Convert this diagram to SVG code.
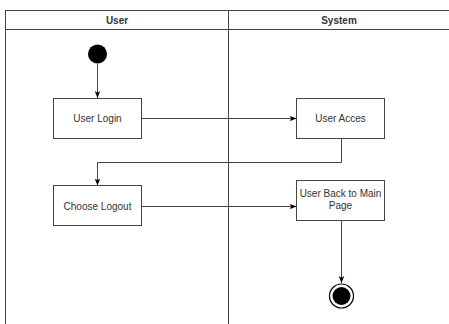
<svg xmlns="http://www.w3.org/2000/svg" width="449" height="324" viewBox="0 0 449 324">
  <defs>
    <marker id="arrow" viewBox="0 0 10 10" refX="10" refY="5" markerWidth="7" markerHeight="7" orient="auto" markerUnits="userSpaceOnUse">
      <path d="M0,1 L10,5 L0,9 L2.5,5 Z" fill="#000"/>
    </marker>
    <style>
      .lane { fill: none; stroke: #444; stroke-width: 1; }
      .box { fill: #fff; stroke: #444; stroke-width: 1; }
      .edge { fill: none; stroke: #444; stroke-width: 1; marker-end: url(#arrow); }
      .label { font-family: "Liberation Sans", Arial, sans-serif; font-size: 10px; fill: #333; text-anchor: middle; }
      .head { font-family: "Liberation Sans", Arial, sans-serif; font-size: 10px; font-weight: bold; fill: #333; text-anchor: middle; }
    </style>
  </defs>
  <rect width="449" height="324" fill="#fff"/>

  <!-- swimlanes -->
  <g id="lanes">
    <line class="lane" x1="5.5" y1="10.5" x2="449" y2="10.5" stroke="#222"/>
    <line class="lane" x1="5.5" y1="29.5" x2="449" y2="29.5"/>
    <line class="lane" x1="5.5" y1="10" x2="5.5" y2="324"/>
    <line class="lane" x1="228.5" y1="10" x2="228.5" y2="324"/>
    <text class="head" x="117" y="23.5">User</text>
    <text class="head" x="339" y="23.5">System</text>
  </g>

  <!-- connectors -->
  <g id="connectors">
    <path class="edge" d="M97.5,64 L97.5,98"/>
    <path class="edge" d="M141,118.5 L296.5,118.5"/>
    <path class="edge" d="M341.5,138 L341.5,162.5 L97.5,162.5 L97.5,185.5"/>
    <path class="edge" d="M141,206.5 L296.5,206.5"/>
    <path class="edge" d="M341.5,221 L341.5,283"/>
  </g>

  <g id="start">
    <circle cx="97.5" cy="54" r="9.5" fill="#000"/>
  </g>

  <g id="user-login">
    <rect class="box" x="53.5" y="98.5" width="88" height="40"/>
    <text class="label" x="97.5" y="122">User Login</text>
  </g>

  <g id="user-acces">
    <rect class="box" x="296.5" y="98.5" width="88" height="40"/>
    <text class="label" x="340.5" y="122">User Acces</text>
  </g>

  <g id="choose-logout">
    <rect class="box" x="53.5" y="185.5" width="88" height="40"/>
    <text class="label" x="97.5" y="209.5">Choose Logout</text>
  </g>

  <g id="back-to-main">
    <rect class="box" x="296.5" y="180.5" width="88" height="40"/>
    <text class="label" x="340.5" y="197">User Back to Main</text>
    <text class="label" x="340.5" y="209">Page</text>
  </g>

  <g id="end">
    <circle cx="341.5" cy="296" r="12" fill="#fff" stroke="#000" stroke-width="1.2"/>
    <circle cx="341.5" cy="296" r="9" fill="#000"/>
  </g>
</svg>
